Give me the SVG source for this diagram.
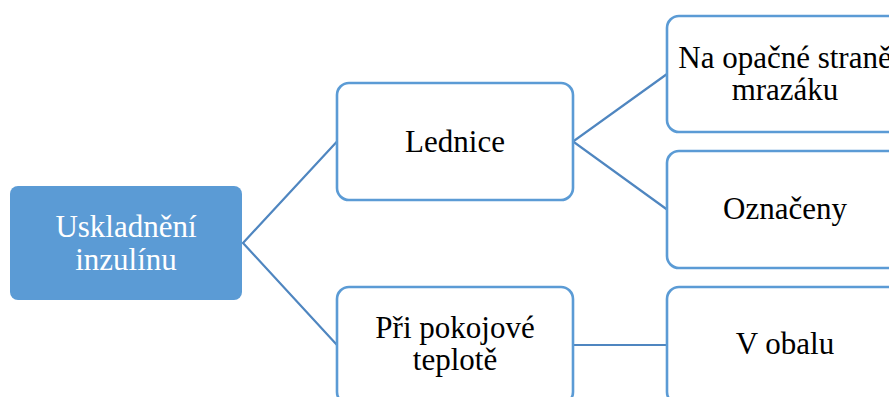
<svg xmlns="http://www.w3.org/2000/svg" width="889" height="397" viewBox="0 0 889 397">
  <style>
    .box { fill: #ffffff; stroke: #5B9BD5; stroke-width: 2.6; }
    .root { fill: #5B9BD5; stroke: none; }
    .lbl { font-family: "Liberation Serif", "Times New Roman", serif; font-size: 31px; fill: #000000; text-anchor: middle; }
    .lbl-root { fill: #ffffff; }
    .link { fill: none; stroke: #4F86C0; stroke-width: 2.2; }
  </style>
  <rect width="889" height="397" fill="#ffffff"/>

  <g id="connectors">
    <polyline class="link" points="337,141.5 243,243 337,345"/>
    <polyline class="link" points="667,74 573,141.5 667,209.5"/>
    <line class="link" x1="573" y1="345" x2="667" y2="345"/>
  </g>

  <g id="node-root">
    <rect class="root" x="10" y="186" width="232" height="114" rx="8"/>
    <text class="lbl lbl-root" x="126" y="237">Uskladnění</text>
    <text class="lbl lbl-root" x="126" y="270">inzulínu</text>
  </g>

  <g id="node-lednice">
    <rect class="box" x="337" y="83" width="236" height="117" rx="12"/>
    <text class="lbl" x="455" y="152">Lednice</text>
  </g>

  <g id="node-pokojova">
    <rect class="box" x="337" y="287" width="236" height="117" rx="12"/>
    <text class="lbl" x="455" y="338">Při pokojové</text>
    <text class="lbl" x="455" y="370">teplotě</text>
  </g>

  <g id="node-mrazak">
    <rect class="box" x="667" y="16" width="236" height="116" rx="12"/>
    <text class="lbl" x="785" y="68">Na opačné straně</text>
    <text class="lbl" x="785" y="100">mrazáku</text>
  </g>

  <g id="node-oznaceny">
    <rect class="box" x="667" y="151" width="236" height="117" rx="12"/>
    <text class="lbl" x="785" y="219">Označeny</text>
  </g>

  <g id="node-obal">
    <rect class="box" x="667" y="287" width="236" height="117" rx="12"/>
    <text class="lbl" x="785" y="354">V obalu</text>
  </g>
</svg>
